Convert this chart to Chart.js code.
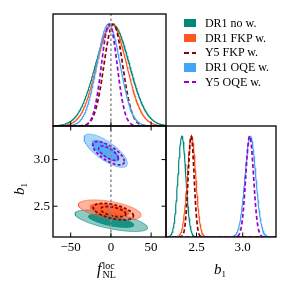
<!DOCTYPE html>
<html>
<head>
<meta charset="utf-8">
<script src="https://cdn.jsdelivr.net/npm/chart.js@4.4.1/dist/chart.umd.min.js"></script>
<style>
  body { margin: 0; background: #fff; }
  #wrap { position: relative; width: 291px; height: 291px; font-family: 'Liberation Serif', serif; color: #000; }
  #wrap canvas { position: absolute; left: 0; top: 0; }
  .lbl { position: absolute; white-space: nowrap; line-height: 1; }
  .stk { display: inline-block; vertical-align: middle; font-size: 10px; line-height: 9px; margin-left: 1px; }
  .stk span { display: block; }
  #legend { position: absolute; left: 184px; top: 16px; font-size: 12px; }
  .row { height: 14.7px; display: flex; align-items: center; }
  .mk { width: 12.4px; height: 8.3px; margin-right: 8.5px; }
  .dash { width: 12.4px; height: 1.6px; margin: 3.35px 8.5px 3.35px 0; }
</style>
</head>
<body>
<div id="wrap">
  <canvas id="c1" width="291" height="291"></canvas>
  <canvas id="c2" width="291" height="291"></canvas>
  <canvas id="c3" width="291" height="291"></canvas>
  <div id="legend"></div>
  <div class="lbl" style="left:97px;top:261px;"><i style="font-size:16px">f</i><span class="stk"><span>loc</span><span>NL</span></span></div>
  <div class="lbl" style="left:214px;top:261px;"><i style="font-size:15px">b</i><span style="font-size:9px;vertical-align:-3px">1</span></div>
  <div class="lbl" style="left:14px;top:180px;transform:rotate(-90deg);"><i style="font-size:15px">b</i><span style="font-size:9px;vertical-align:-3px">1</span></div>
</div>
<script>
  var series = ['DR1 no w.', 'DR1 FKP w.', 'Y5 FKP w.', 'DR1 OQE w.', 'Y5 OQE w.'];
  var colors = ['#00897B', '#FF5722', '#8B0000', '#42A5F5', '#9400D3'];
  var filled = [true, true, false, true, false];

  // 1D marginals (peak position, width)
  var fnlMean = [2, 1, 3, -3, -2];
  var fnlSigma = [21, 18.5, 11.5, 14.5, 9.7];
  var b1Mean = [2.342, 2.446, 2.442, 3.083, 3.075];
  var b1Sigma = [0.0425, 0.0456, 0.032, 0.058, 0.042];

  // 2D contours (centre, widths, correlation)
  var cFnl = [0.4, -1.5, 3, -6.5, -3];
  var cB1 = [2.344, 2.46, 2.442, 3.095, 3.068];
  var cSigFnl = [18.4, 15.9, 10.2, 11, 8];
  var cSigB1 = [0.047, 0.044, 0.036, 0.073, 0.051];
  var cRho = [-0.65, -0.5, -0.5, -0.75, -0.7];
  var levels = [2.45, 1.52]; // 95%, 68%

  var fnlTicks = [-50, 0, 50];
  var b1Ticks = [2.5, 3.0];
  var fnlRange = [-72, 68.5];
  var b1Range = [2.17, 3.36];
  var fnlRef = 0;

  function rgba(hex, a) {
    var n = parseInt(hex.slice(1), 16);
    return 'rgba(' + (n >> 16) + ',' + ((n >> 8) & 255) + ',' + (n & 255) + ',' + a + ')';
  }

  function gauss(m, s, range) {
    var pts = [];
    for (var i = 0; i <= 300; i++) {
      var x = range[0] + (range[1] - range[0]) * i / 300;
      pts.push({x: x, y: Math.exp(-0.5 * Math.pow((x - m) / s, 2))});
    }
    return pts;
  }

  function ellipse(i, k) {
    var pts = [];
    var r = cRho[i], q = Math.sqrt(1 - r * r);
    for (var j = 0; j <= 160; j++) {
      var t = 2 * Math.PI * j / 160;
      pts.push({
        x: cFnl[i] + k * cSigFnl[i] * Math.cos(t),
        y: cB1[i] + k * cSigB1[i] * (r * Math.cos(t) + q * Math.sin(t))
      });
    }
    return pts;
  }

  var refStyle = {borderColor: '#8c8c8c', borderWidth: 1.5, borderDash: [2.5, 2.5], pointRadius: 0, fill: false};

  var framePlugin = {
    id: 'frame',
    afterDraw: function(chart, args, opts) {
      var ctx = chart.ctx, a = chart.chartArea, sx = chart.scales.x, sy = chart.scales.y;
      ctx.save();
      ctx.strokeStyle = '#000';
      ctx.lineWidth = 1.3;
      ctx.strokeRect(a.left, a.top, a.right - a.left, a.bottom - a.top);
      ctx.lineWidth = 1;
      var L = 4.5;
      ctx.beginPath();
      (opts.bottom || []).forEach(function(v) { var x = sx.getPixelForValue(v); ctx.moveTo(x, a.bottom); ctx.lineTo(x, a.bottom - L); });
      (opts.top || []).forEach(function(v) { var x = sx.getPixelForValue(v); ctx.moveTo(x, a.top); ctx.lineTo(x, a.top + L); });
      (opts.left || []).forEach(function(v) { var y = sy.getPixelForValue(v); ctx.moveTo(a.left, y); ctx.lineTo(a.left + L, y); });
      (opts.right || []).forEach(function(v) { var y = sy.getPixelForValue(v); ctx.moveTo(a.right, y); ctx.lineTo(a.right - L, y); });
      ctx.stroke();
      ctx.restore();
    }
  };

  var tickFont = {family: 'Liberation Serif', size: 13};

  function axis(range, ticks, show, fmt, fit) {
    return {
      type: 'linear', min: range[0], max: range[1], display: show,
      grid: {display: false, drawTicks: false}, border: {display: false},
      afterBuildTicks: function(s) { s.ticks = ticks.map(function(v) { return {value: v}; }); },
      afterFit: fit,
      ticks: {font: tickFont, color: '#000', padding: 3, autoSkip: false, maxRotation: 0, callback: fmt}
    };
  }
  function fmtF(v) { return v < 0 ? '\u2212' + Math.abs(v) : String(v); }
  function fmtB(v) { return v.toFixed(1); }

  function makeChart(id, datasets, x, y, pad, frame) {
    datasets.forEach(function(d, i) { d.order = datasets.length - i; });
    return new Chart(document.getElementById(id), {
      type: 'line',
      data: {datasets: datasets},
      options: {
        responsive: false, animation: false, devicePixelRatio: 1,
        layout: {padding: pad},
        elements: {line: {tension: 0}, point: {radius: 0}},
        plugins: {legend: {display: false}, tooltip: {enabled: false}, frame: frame},
        scales: {x: x, y: y}
      },
      plugins: [framePlugin]
    });
  }

  // 1D f_NL panel
  var d1 = series.map(function(s, i) {
    return {label: s, data: gauss(fnlMean[i], fnlSigma[i], fnlRange), borderColor: colors[i],
      borderWidth: filled[i] ? 1.2 : 1.7, borderDash: filled[i] ? [] : [4, 2.5], pointRadius: 0, fill: false};
  });
  d1.push(Object.assign({data: [{x: fnlRef, y: 0}, {x: fnlRef, y: 1.1}]}, refStyle));
  makeChart('c1', d1,
    axis(fnlRange, fnlTicks, false),
    axis([0, 1.1], [], false),
    {left: 53, top: 14, right: 125, bottom: 165},
    {bottom: fnlTicks});

  // 2D f_NL - b1 panel
  var d2 = [];
  series.forEach(function(s, i) {
    levels.forEach(function(k, j) {
      if (filled[i]) {
        d2.push({label: s, data: ellipse(i, k), fill: 'shape', pointRadius: 0,
          backgroundColor: rgba(colors[i], j === 0 ? 0.45 : 0.85),
          borderColor: rgba(colors[i], j === 0 ? 0.7 : 0.9), borderWidth: 0.8});
      } else {
        d2.push({label: s, data: ellipse(i, k), fill: false, pointRadius: 0,
          borderColor: colors[i], borderWidth: 1.7, borderDash: [3, 2]});
      }
    });
  });
  d2.push(Object.assign({data: [{x: fnlRef, y: b1Range[0]}, {x: fnlRef, y: b1Range[1]}]}, refStyle));
  makeChart('c2', d2,
    axis(fnlRange, fnlTicks, true, fmtF, function(s) { s.height = 30; }),
    axis(b1Range, b1Ticks, true, fmtB, function(s) { s.width = 53; }),
    {left: 0, top: 126, right: 125, bottom: 24},
    {bottom: fnlTicks, top: fnlTicks, left: b1Ticks, right: b1Ticks});

  // 1D b1 panel
  var d3 = series.map(function(s, i) {
    return {label: s, data: gauss(b1Mean[i], b1Sigma[i], b1Range), borderColor: colors[i],
      borderWidth: filled[i] ? 1.2 : 1.7, borderDash: filled[i] ? [] : [4, 2.5], pointRadius: 0, fill: false};
  });
  makeChart('c3', d3,
    axis(b1Range, b1Ticks, true, fmtB, function(s) { s.height = 30; }),
    axis([0, 1.1], [], false),
    {left: 166, top: 126, right: 15, bottom: 24},
    {bottom: b1Ticks});

  // legend
  var leg = document.getElementById('legend');
  series.forEach(function(s, i) {
    var row = document.createElement('div');
    row.className = 'row';
    var mk = document.createElement('div');
    if (filled[i]) {
      mk.className = 'mk';
      mk.style.background = colors[i];
    } else {
      mk.className = 'dash';
      mk.style.background = 'repeating-linear-gradient(90deg,' + colors[i] + ' 0 4.5px, transparent 4.5px 7.9px)';
    }
    var tx = document.createElement('span');
    tx.textContent = s;
    row.appendChild(mk);
    row.appendChild(tx);
    leg.appendChild(row);
  });
</script>
</body>
</html>
